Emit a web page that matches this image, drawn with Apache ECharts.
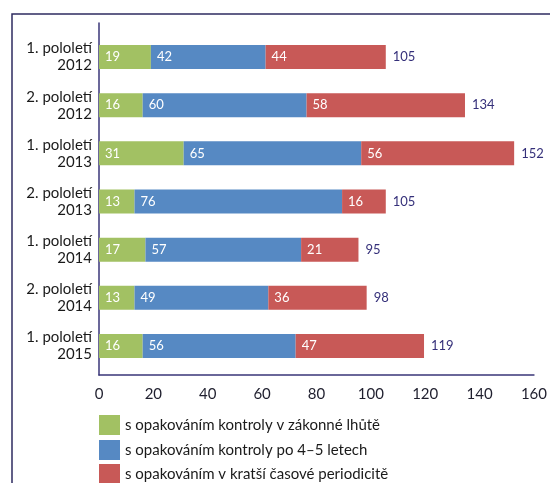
<!DOCTYPE html>
<html>
<head>
<meta charset="utf-8">
<script src="https://cdn.jsdelivr.net/npm/echarts@6/dist/echarts.min.js"></script>
<style>
  html, body { margin: 0; padding: 0; background: #ffffff; }
  #chart { width: 550px; height: 483px; }
</style>
</head>
<body>
<div id="chart"></div>
<script>
// Half-year periods (two-line labels)
const categories = [
  '1. pololetí\n2012', '2. pololetí\n2012',
  '1. pololetí\n2013', '2. pololetí\n2013',
  '1. pololetí\n2014', '2. pololetí\n2014',
  '1. pololetí\n2015'
];
const seriesNames = [
  's opakováním kontroly v zákonné lhůtě',
  's opakováním kontroly po 4–5 letech',
  's opakováním v kratší časové periodicitě'
];
const legalTerm   = [19, 16, 31, 13, 17, 13, 16];
const after4to5   = [42, 60, 65, 76, 57, 49, 56];
const shorterTerm = [44, 58, 56, 16, 21, 36, 47];
const xTicks = [0, 20, 40, 60, 80, 100, 120, 140, 160];

const totals = categories.map((_, i) => legalTerm[i] + after4to5[i] + shorterTerm[i]);
const colors = ['#a2c163', '#5689c3', '#c85957'];
const FONT = 'Lato, "Open Sans", sans-serif';

const chart = echarts.init(document.getElementById('chart'), null, { renderer: 'canvas' });

function segment(name, data, color) {
  return {
    name, type: 'bar', stack: 'total', data,
    xAxisIndex: 0, yAxisIndex: 0,
    barWidth: 24,
    itemStyle: { color },
    label: {
      show: true, position: 'insideLeft', distance: 6,
      color: '#ffffff', fontSize: 13, fontFamily: FONT
    },
    emphasis: { disabled: true }
  };
}

// one legend block per row so the last row can run off the bottom edge
const legendTops = [415, 440, 464];
const legends = seriesNames.map((name, i) => ({
  orient: 'vertical', left: 99, top: legendTops[i], padding: 0,
  itemWidth: 21, itemHeight: 20,
  icon: 'rect', selectedMode: false,
  data: [name],
  textStyle: { fontSize: 15, color: '#1a1a1a', fontFamily: FONT }
}));

chart.setOption({
  animation: false,
  color: colors,
  graphic: [{
    // outer frame (open to the right and bottom)
    type: 'polyline',
    shape: { points: [[12, 600], [12, 14], [600, 14]] },
    style: { stroke: '#2e2b60', lineWidth: 1.5, fill: null }
  }],
  legend: legends,
  grid: [
    { left: 99, top: 33, width: 437, height: 337 },
    { left: 99, top: 23, width: 437, height: 352 }
  ],
  xAxis: [
    { gridIndex: 0, type: 'value', min: 0, max: 160, interval: 20,
      axisLine: { show: false }, axisTick: { show: false },
      axisLabel: { show: false }, splitLine: { show: false } },
    { gridIndex: 1, type: 'value', min: 0, max: 160, interval: 20,
      axisLine: { show: true, lineStyle: { color: '#3a3678', width: 1.5 } },
      axisTick: { show: false }, splitLine: { show: false },
      axisLabel: {
        margin: 12, fontSize: 15, color: '#1f1f2e', fontFamily: FONT,
        formatter: v => xTicks.includes(v) ? String(v) : ''
      } }
  ],
  yAxis: [
    { gridIndex: 0, type: 'category', data: categories, inverse: true,
      axisLine: { show: false }, axisTick: { show: false },
      axisLabel: {
        margin: 7, fontSize: 15, lineHeight: 17, align: 'right',
        color: '#1a1a1a', fontFamily: FONT
      } },
    { gridIndex: 1, type: 'value', min: 0, max: 1,
      axisLine: { show: true, lineStyle: { color: '#3a3678', width: 1.5 } },
      axisTick: { show: false }, axisLabel: { show: false },
      splitLine: { show: false } }
  ],
  series: [
    segment(seriesNames[0], legalTerm, colors[0]),
    segment(seriesNames[1], after4to5, colors[1]),
    segment(seriesNames[2], shorterTerm, colors[2]),
    {
      // zero-length bar at the end of each stack carrying the total
      name: 'celkem', type: 'bar', stack: 'total',
      xAxisIndex: 0, yAxisIndex: 0, barWidth: 24,
      data: totals.map(() => 0),
      itemStyle: { color: 'transparent' },
      label: {
        show: true, position: 'right', distance: 7,
        fontSize: 13, color: '#35307a', fontFamily: FONT,
        formatter: p => String(totals[p.dataIndex])
      },
      emphasis: { disabled: true }
    }
  ]
});
</script>
</body>
</html>
